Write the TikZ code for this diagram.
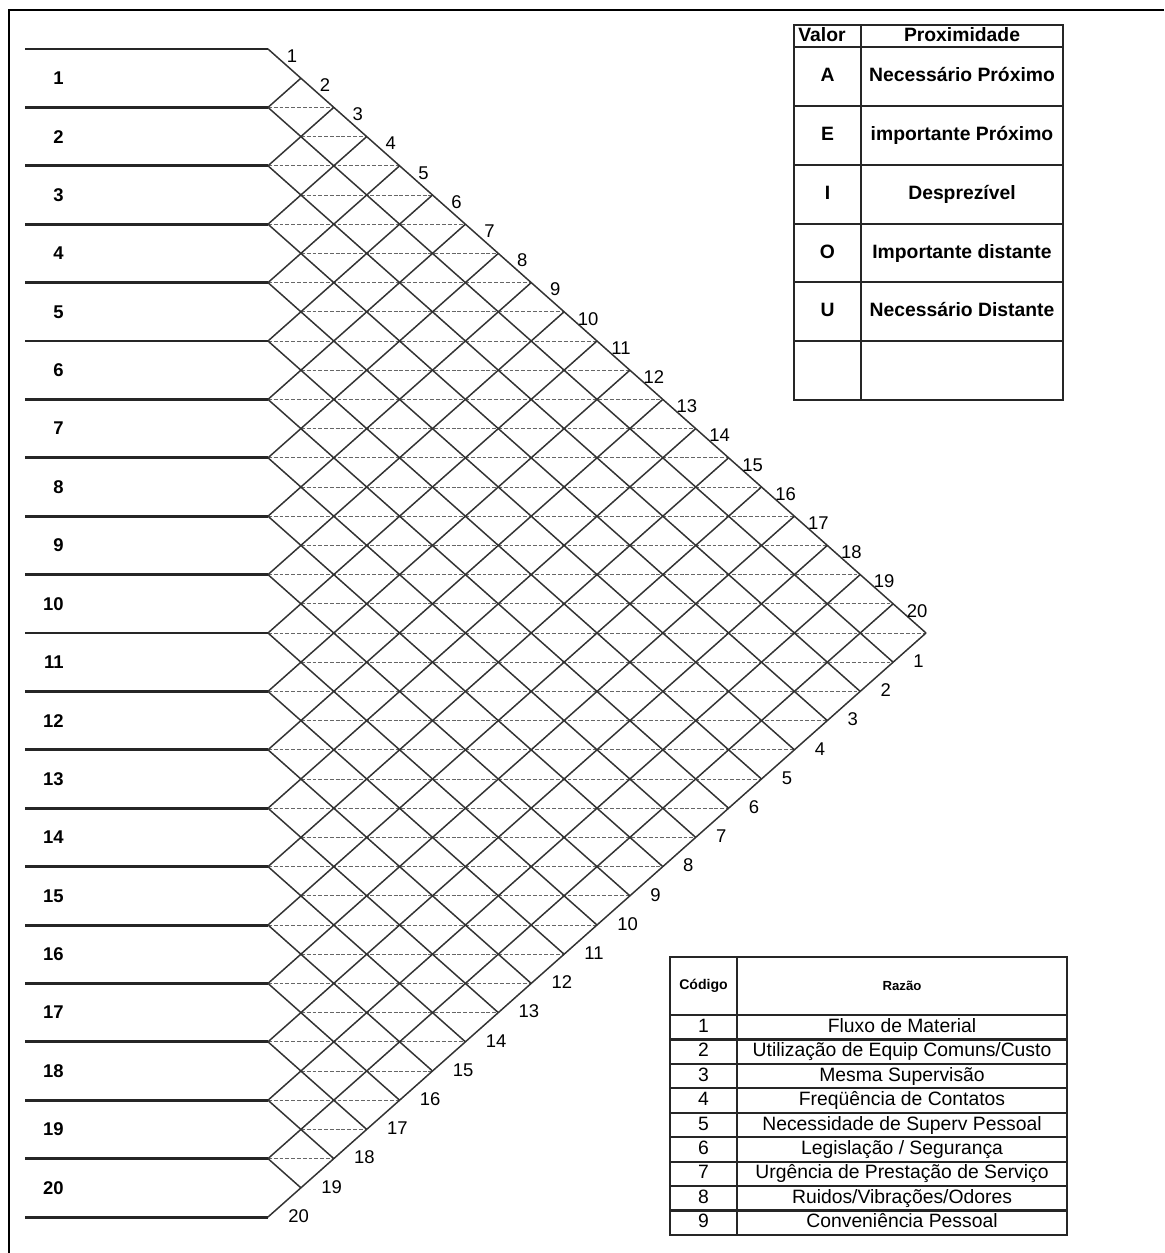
\documentclass[tikz,border=0pt]{standalone}
\usepackage{fontspec}
\setmainfont{Liberation Sans}
\usetikzlibrary{positioning}

\begin{document}
\begin{tikzpicture}[
    x=0.02cm, y=-0.02cm,
    rowline/.style={line width=1.7pt, black!85},
    gridline/.style={line width=0.85pt, black!80},
    halfline/.style={dash pattern=on 2.2pt off 1.1pt, line width=0.55pt, black!60},
    tabline/.style={line width=1.2pt, black!85},
    rowlabel/.style={anchor=east, inner sep=0pt, font=\fontsize{10.5}{12}\selectfont\bfseries},
    edgelabel/.style={inner sep=0pt, font=\fontsize{10.5}{12}\selectfont},
    valcell/.style={text height=8pt, text depth=2pt, font=\fontsize{11}{13}\selectfont\bfseries},
    razcell/.style={inner sep=0pt, text height=8pt, text depth=2.3pt, font=\fontsize{11}{13}\selectfont}
]
\useasboundingbox (0,0) rectangle (1164,1253);
\draw[line width=1.7pt] (9,1253) -- (9,10) -- (1164,10);

% points of the chart
\foreach \j in {0,...,20} {
    \coordinate (L\j) at (268, 49+58.4*\j);
    \coordinate (T\j) at (268+32.9*\j, 49+29.2*\j);
    \coordinate (B\j) at (926-32.9*\j, 633+29.2*\j);
}

% half-row lines
\foreach \m in {2,...,38} {
    \pgfmathsetmacro{\ex}{268+32.9*min(\m,40-\m)}
    \pgfmathsetmacro{\sx}{268+32.9*mod(\m,2)}
    \draw[halfline] (\sx, 49+29.2*\m) -- (\ex, 49+29.2*\m);
}

% diamonds
\foreach \j in {0,...,20} {
    \draw[gridline] (L\j) -- (B\j);
    \draw[gridline] (L\j) -- (T\j);
    \draw[rowline] (L\j) -- ++(-243,0);
}

\foreach \i in {1,...,20} {
    \node[rowlabel] (r\i) at (64, 49+58.4*\i-29.2) {\i};
    \node[edgelabel] (t\i) at ({292+32.9*(\i-1)}, {56+29.2*(\i-1)}) {\i};
    \node[edgelabel, anchor=west] (b\i) at ({946-32.9*\i}, {632+29.2*\i}) {\i};
}

% proximity table
\draw[tabline] (794,25) rectangle (1063,400);
\draw[tabline] (861,25) -- (861,400);
\foreach \y in {47,106,165,224,282,341} \draw[tabline] (794,\y) -- (1063,\y);
\node[valcell] (valor) at (822,36) {Valor};
\node[valcell] (prox) at (962,36) {Proximidade};
\foreach \v/\t [count=\n] in {A/Necessário Próximo, E/importante Próximo, I/Desprezível, O/Importante distante, U/Necessário Distante} {
    \node[valcell] (v\n) at (827.5, 47+58.8*\n-29.4) {\v};
    \node[valcell] (p\n) at (962, 47+58.8*\n-29.4) {\t};
}

% reason table
\draw[tabline] (670,957) rectangle (1067,1235);
\draw[tabline] (737,957) -- (737,1235);
\draw[tabline] (670,1015) -- (1067,1015);
\foreach \k in {1,...,8} \draw[tabline] (670,1015+24.44*\k) -- (1067,1015+24.44*\k);
\node[font=\fontsize{8}{10}\selectfont\bfseries] (cod) at (703.5,986) {Código};
\node[font=\fontsize{7.5}{9}\selectfont\bfseries] (raz) at (902,986) {Razão};
\foreach \t [count=\n] in {Fluxo de Material, Utilização de Equip Comuns/Custo, Mesma Supervisão, Freqüência de Contatos, Necessidade de Superv Pessoal, Legislação / Segurança, Urgência de Prestação de Serviço, Ruidos/Vibrações/Odores, Conveniência Pessoal} {
    \node[razcell] (c\n) at (703.5, 1015+24.44*\n-12.22) {\n};
    \node[razcell] (z\n) at (902, 1015+24.44*\n-12.22) {\t};
}
\end{tikzpicture}
\end{document}
